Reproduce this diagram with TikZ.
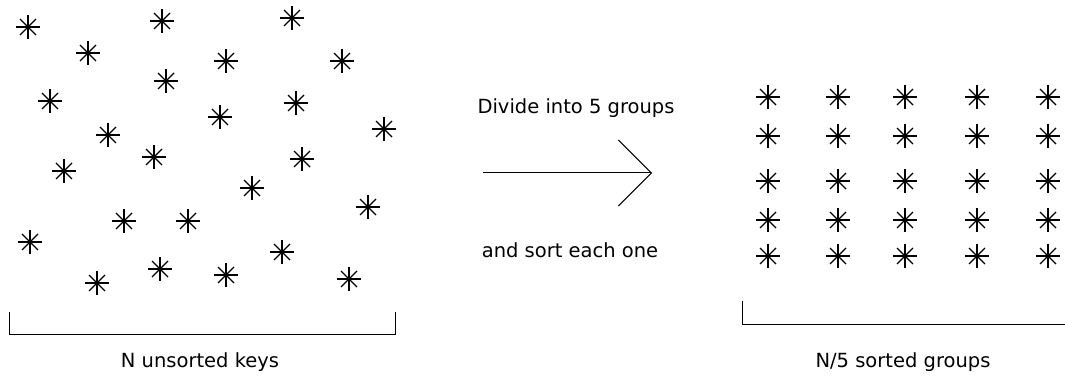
\documentclass[tikz,border=0pt]{standalone}
\usepackage{fontspec}
\setmainfont{DejaVu Sans}
\usetikzlibrary{arrows.meta}
\tikzset{
  keystar/.pic={
    \draw[line width=1.2pt] (-12,0) -- (12,0);
    \draw[line width=1.2pt] (0,-12) -- (0,12);
    \draw[line width=1.1pt] (-8,-8) -- (8,8);
    \draw[line width=1.1pt] (-8,8) -- (8,-8);
    \fill (0,0) circle (2.4);
  },
  caption/.style={inner sep=0pt,outer sep=0pt,anchor=center,text=black,font=\fontsize{19.5}{23}\selectfont},
  bracket/.style={draw=black,line width=1pt,fill=none},
}
\begin{document}
\begin{tikzpicture}[x=1pt,y=-1pt]
\path[use as bounding box] (0,0) rectangle (1065,379);
\path[fill=white,draw=none] (0,0) rectangle (1065,379);
% unsorted keys
\pic at (28,27) {keystar};
\pic at (162,21) {keystar};
\pic at (292,18) {keystar};
\pic at (88,53) {keystar};
\pic at (226,61) {keystar};
\pic at (342,61) {keystar};
\pic at (166,81) {keystar};
\pic at (50,101) {keystar};
\pic at (296,103) {keystar};
\pic at (220,117) {keystar};
\pic at (384,129) {keystar};
\pic at (108,135) {keystar};
\pic at (154,157) {keystar};
\pic at (302,159) {keystar};
\pic at (64,171) {keystar};
\pic at (252,188) {keystar};
\pic at (368,207) {keystar};
\pic at (124,221) {keystar};
\pic at (188,221) {keystar};
\pic at (30,242) {keystar};
\pic at (282,252) {keystar};
\pic at (160,269) {keystar};
\pic at (226,275) {keystar};
\pic at (97,283) {keystar};
\pic at (349,279) {keystar};
\draw[bracket] (9,312) -- (9,334) -- (395,334) -- (395,312);
\node[caption] (unsorted) at (200,362) {N unsorted keys};
% arrow
\node[caption] (divide) at (576,108) {Divide into 5 groups};
\coordinate (arrowstart) at (483,173);
\coordinate (arrowend) at (652,173);
\draw[line width=1pt,-{Straight Barb[length=33pt,width=66pt,line width=1pt]}] (arrowstart) -- (arrowend);
\node[caption] (sorteach) at (570,250) {and sort each one};
% sorted groups
\pic at (768,97) {keystar};
\pic at (838,97) {keystar};
\pic at (905,97) {keystar};
\pic at (977,97) {keystar};
\pic at (1048,97) {keystar};
\pic at (768,136) {keystar};
\pic at (838,136) {keystar};
\pic at (905,136) {keystar};
\pic at (977,136) {keystar};
\pic at (1048,136) {keystar};
\pic at (768,181) {keystar};
\pic at (838,181) {keystar};
\pic at (905,181) {keystar};
\pic at (977,181) {keystar};
\pic at (1048,181) {keystar};
\pic at (768,220) {keystar};
\pic at (838,220) {keystar};
\pic at (905,220) {keystar};
\pic at (977,220) {keystar};
\pic at (1048,220) {keystar};
\pic at (768,256) {keystar};
\pic at (838,256) {keystar};
\pic at (905,256) {keystar};
\pic at (977,256) {keystar};
\pic at (1048,256) {keystar};
\draw[bracket] (742,301) -- (742,324) -- (1070,324);
\node[caption] (sorted) at (903,362) {N/5 sorted groups};
\end{tikzpicture}
\end{document}
